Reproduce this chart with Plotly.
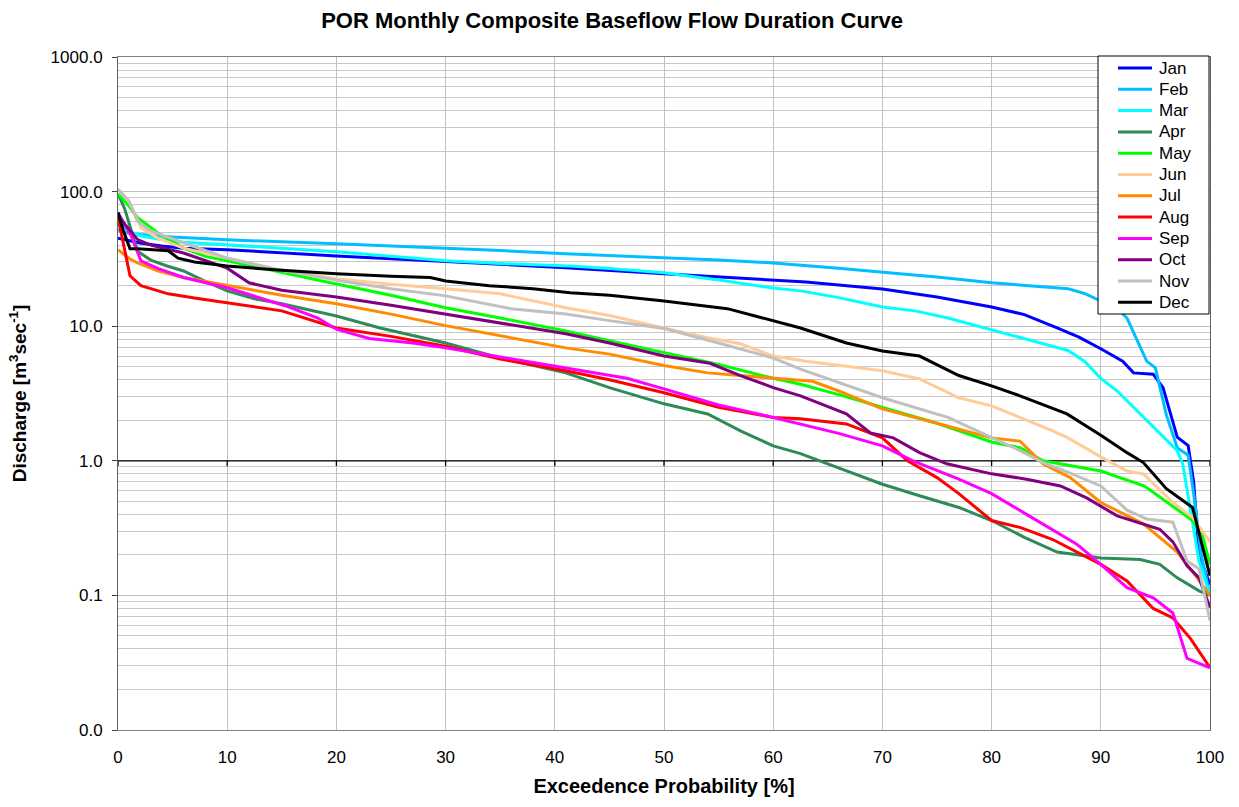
import plotly.graph_objects as go

months = ["Jan", "Feb", "Mar", "Apr", "May", "Jun", "Jul", "Aug", "Sep", "Oct", "Nov", "Dec"]
colors = ["#0000FF", "#00BFFF", "#00FFFF", "#2E8B57", "#00FF00", "#FFCC99",
          "#FF8C00", "#FF0000", "#FF00FF", "#800080", "#C0C0C0", "#000000"]

jan_x = [0, 1, 2, 4, 6, 10, 15, 20, 30, 41, 50, 60, 63, 70, 75, 80, 83, 86, 88, 90, 92, 93, 94.8, 95.7, 97, 98, 98.5, 99, 100]
jan_y = [45, 43, 41.5, 39.5, 38, 37, 35, 33.3, 30.2, 27.2, 24.5, 22.1, 21.3, 18.9, 16.5, 13.9, 12.2, 9.7, 8.3, 6.8, 5.5, 4.5, 4.4, 3.5, 1.5, 1.3, 0.7, 0.2, 0.12]

feb_x = [0, 1, 2, 5, 10, 15, 20, 25, 30, 35, 41, 45, 50, 55, 60, 62.5, 66, 71.6, 75, 80, 84, 87, 88.5, 90, 91.5, 92.4, 93.5, 94.2, 95, 96, 97, 98, 98.6, 99.2, 100]
feb_y = [52, 49, 48, 46, 43.8, 42.5, 41, 39.5, 38.2, 36.5, 34.5, 33.5, 32.2, 31, 29.5, 28.5, 27, 24.5, 23.2, 21, 19.8, 19, 17.5, 15.4, 13.5, 11.5, 7.4, 5.5, 4.9, 2.2, 1.25, 1.1, 0.5, 0.2, 0.1]

mar_x = [0, 1, 2, 4, 6, 10, 15, 20, 25, 30, 35, 41.4, 45, 50, 55, 60, 62.5, 66, 70, 73, 76, 80, 83.8, 87, 88.5, 90, 91.5, 93, 95.4, 97, 97.5, 98, 98.5, 99, 100]
mar_y = [60, 51, 47, 44, 42, 40.3, 38, 35.8, 33, 30.6, 29.2, 28, 26.8, 25, 22, 19.2, 18.3, 16.3, 13.9, 13, 11.5, 9.4, 7.8, 6.6, 5.5, 4.1, 3.3, 2.5, 1.6, 1.19, 0.95, 0.55, 0.3, 0.18, 0.1]

apr_x = [0, 0.6, 1.2, 1.8, 3, 4.5, 6, 8, 10, 12.5, 15, 20, 24, 30, 35, 41, 45, 50, 54, 57, 60, 62.5, 65, 70, 73.4, 77, 80, 83, 86, 90, 93.6, 95.4, 97, 99, 100]
apr_y = [96, 75, 52, 36, 31, 28, 25.7, 21.5, 18.3, 16, 14.7, 11.9, 9.7, 7.5, 5.8, 4.5, 3.5, 2.65, 2.23, 1.67, 1.29, 1.13, 0.95, 0.67, 0.55, 0.45, 0.36, 0.27, 0.21, 0.19, 0.185, 0.17, 0.135, 0.108, 0.1]

may_x = [0, 1, 1.8, 3.7, 6, 8, 10, 15, 20, 25, 30, 35, 41, 45, 50, 55, 60, 62.5, 66, 70, 75, 80, 82.6, 84.7, 90, 94, 96, 98.4, 99.3, 100]
may_y = [96, 78, 64, 49, 38, 33, 30.6, 25, 20.6, 17, 13.7, 11.5, 9.2, 7.8, 6.35, 5.2, 4.1, 3.7, 3.1, 2.48, 1.9, 1.38, 1.25, 1.0, 0.84, 0.65, 0.5, 0.36, 0.28, 0.17]

jun_x = [0, 1, 2.1, 3.7, 6, 10, 15, 20, 25, 30, 35, 41, 45, 50, 54, 57, 60, 63, 66, 70, 73.4, 77, 80, 82.6, 85.6, 87, 90, 92.4, 93.9, 96.6, 98.4, 100]
jun_y = [104, 85, 54, 45, 38, 32, 26, 22.5, 20.5, 19, 17.4, 13.7, 12, 9.7, 8.2, 7.4, 6.0, 5.5, 5.1, 4.66, 4.06, 2.94, 2.56, 2.1, 1.67, 1.48, 1.07, 0.84, 0.8, 0.49, 0.38, 0.25]

jul_x = [0, 1, 1.8, 3.7, 6, 10, 15, 20, 25, 30, 35, 41, 45, 50, 54, 57, 60, 63.6, 66, 70, 75, 80, 82.6, 84.7, 87.2, 90, 93.9, 97, 98.4, 100]
jul_y = [37, 32, 29.5, 25.7, 23, 20, 17, 14.7, 12.3, 10.1, 8.5, 6.9, 6.2, 5.1, 4.5, 4.3, 4.1, 3.9, 3.3, 2.43, 1.9, 1.48, 1.4, 0.95, 0.75, 0.49, 0.34, 0.21, 0.15, 0.1]

aug_x = [0, 0.6, 1.1, 2.1, 4.6, 7, 10, 15, 20, 25, 30, 35, 41, 45, 50, 55, 60, 62.5, 66.7, 70, 72.3, 75, 77, 80, 82.6, 85.6, 90, 92.4, 94.8, 96.6, 98.2, 100]
aug_y = [64, 38, 23.7, 20, 17.4, 16.2, 14.9, 13, 9.7, 8.4, 7.1, 5.7, 4.66, 4.0, 3.2, 2.5, 2.1, 2.05, 1.88, 1.48, 1.0, 0.75, 0.57, 0.36, 0.32, 0.26, 0.17, 0.128, 0.08, 0.068, 0.048, 0.029]

sep_x = [0, 1.2, 2.1, 3.7, 6, 10, 15.3, 18.3, 20, 23, 27, 30, 35, 41, 46.6, 50, 55, 60, 62.5, 66, 70, 72.8, 77, 80, 83.2, 87.8, 90, 92.4, 94.8, 96.6, 97.9, 100]
sep_y = [70, 47, 30.6, 26.8, 23, 19.3, 14.2, 11.5, 9.5, 8.1, 7.5, 6.9, 5.9, 4.9, 4.1, 3.42, 2.6, 2.1, 1.88, 1.6, 1.29, 1.0, 0.73, 0.57, 0.4, 0.24, 0.17, 0.114, 0.096, 0.074, 0.034, 0.029]

oct_x = [0, 1.8, 3, 6, 10, 12, 15, 20, 25, 30, 35, 41, 45, 50, 54.2, 57, 60, 62.5, 66.7, 68.9, 71, 73.4, 75.9, 80, 83.2, 86.3, 88.7, 91.5, 95.4, 96.6, 97.9, 99, 100]
oct_y = [66, 44, 40, 35, 27, 21, 18.5, 16.5, 14.3, 12.3, 10.5, 8.8, 7.5, 6.0, 5.3, 4.3, 3.5, 3.04, 2.23, 1.61, 1.48, 1.15, 0.95, 0.8, 0.73, 0.65, 0.53, 0.39, 0.31, 0.25, 0.166, 0.135, 0.081]

nov_x = [0, 1, 1.8, 3, 6, 10, 15, 20, 25, 30, 36, 41, 45, 50, 55, 60, 62.5, 65, 70, 76, 80, 82.6, 84.7, 87.2, 90, 92.4, 94.2, 96.6, 97.9, 99, 100]
nov_y = [104, 85, 60, 51, 41.7, 32, 26, 22, 19, 16.8, 13.5, 12.3, 11, 9.6, 7.5, 5.8, 4.8, 4.06, 2.94, 2.1, 1.5, 1.19, 0.97, 0.81, 0.65, 0.43, 0.37, 0.35, 0.18, 0.157, 0.065]

dec_x = [0, 0.5, 1.1, 1.8, 4.6, 5.5, 7, 10, 15, 20, 25, 28.6, 30, 34, 38, 41.4, 45, 50, 55.8, 60, 62.5, 66.7, 70, 73.4, 77, 80, 82.6, 86.9, 90, 92.4, 93.9, 96, 98.4, 99.2, 100]
dec_y = [70, 51, 37.6, 37.6, 36.3, 32, 30, 28, 26, 24.5, 23.5, 23, 21.7, 20, 19, 17.7, 17, 15.4, 13.5, 10.9, 9.7, 7.5, 6.55, 6.0, 4.3, 3.6, 3.04, 2.23, 1.55, 1.15, 0.97, 0.62, 0.45, 0.25, 0.14]

series_x = [jan_x, feb_x, mar_x, apr_x, may_x, jun_x, jul_x, aug_x, sep_x, oct_x, nov_x, dec_x]
series_y = [jan_y, feb_y, mar_y, apr_y, may_y, jun_y, jul_y, aug_y, sep_y, oct_y, nov_y, dec_y]

y_tickvals = [0.01, 0.1, 1, 10, 100, 1000]
y_ticktext = ["0.0", "0.1", "1.0", "10.0", "100.0", "1000.0"]
x_tickvals = list(range(0, 101, 10))

minor_vals = [m * 10 ** e for e in range(-2, 3) for m in range(2, 10)]

FONT = "Arial, Liberation Sans, sans-serif"

fig = go.Figure()

# black horizontal axis line crossing at 1.0, with its tick marks
fig.add_trace(go.Scatter(x=[0, 100], y=[1, 1], mode="lines",
                         line=dict(color="#000000", width=1.3),
                         showlegend=False, hoverinfo="skip"))
tx, ty = [], []
for v in x_tickvals:
    tx += [v, v, None]
    ty += [1, 0.915, None]
fig.add_trace(go.Scatter(x=tx, y=ty, mode="lines",
                         line=dict(color="#000000", width=1.3),
                         showlegend=False, hoverinfo="skip"))

for name, c, xs, ys in zip(months, colors, series_x, series_y):
    fig.add_trace(go.Scatter(x=xs, y=ys, mode="lines", name=name,
                             line=dict(color=c, width=3), showlegend=False))

# legend box (drawn in paper coordinates)
L, R, T, B = 118, 1210, 57, 730
def px(xp):
    return (xp - L) / (R - L)
def py(yp):
    return (B - yp) / (B - T)

shapes = [dict(type="rect", xref="paper", yref="paper",
               x0=px(1098), x1=px(1209), y0=py(314), y1=py(56),
               fillcolor="white", line=dict(color="#000000", width=1), layer="above")]
annotations = []
for i, (name, c) in enumerate(zip(months, colors)):
    yc = 68 + i * 21.3
    shapes.append(dict(type="line", xref="paper", yref="paper",
                       x0=px(1118), x1=px(1152), y0=py(yc), y1=py(yc),
                       line=dict(color=c, width=3), layer="above"))
    annotations.append(dict(text=name, xref="paper", yref="paper",
                            x=px(1157), y=py(yc), xanchor="left", yanchor="middle",
                            showarrow=False, font=dict(size=17, family=FONT, color="black")))

fig.update_layout(
    width=1239, height=807,
    margin=dict(l=118, r=29, t=57, b=77),
    paper_bgcolor="white", plot_bgcolor="white",
    font=dict(family=FONT, color="black", size=17),
    title=dict(text="<b>POR Monthly Composite Baseflow Flow Duration Curve</b>",
               x=0.494, xanchor="center", y=0.975, yanchor="middle",
               font=dict(size=22)),
    showlegend=False,
    shapes=shapes,
    annotations=annotations,
)

fig.update_xaxes(
    range=[0, 100], tickvals=x_tickvals, ticks="",
    showgrid=True, gridcolor="#C0C0C0", gridwidth=1,
    showline=True, linecolor="#808080", linewidth=1, mirror=True,
    zeroline=False, tickfont=dict(size=17), ticklabelstandoff=12,
    title=dict(text="<b>Exceedence Probability [%]</b>", font=dict(size=20), standoff=12),
)

fig.update_yaxes(
    type="log", range=[-2, 3],
    tickvals=y_tickvals, ticktext=y_ticktext,
    ticks="outside", ticklen=5, tickcolor="#404040",
    showgrid=True, gridcolor="#C0C0C0", gridwidth=1,
    minor=dict(tickvals=minor_vals, showgrid=True, gridcolor="#C8C8C8", gridwidth=1, ticks=""),
    showline=True, linecolor="#606060", linewidth=1, mirror=True,
    zeroline=False, tickfont=dict(size=17), ticklabelstandoff=6,
    title=dict(text="<b>Discharge [m<sup>3</sup>sec<sup>-1</sup>]</b>", font=dict(size=19), standoff=18),
)

fig.write_html("out.html")
